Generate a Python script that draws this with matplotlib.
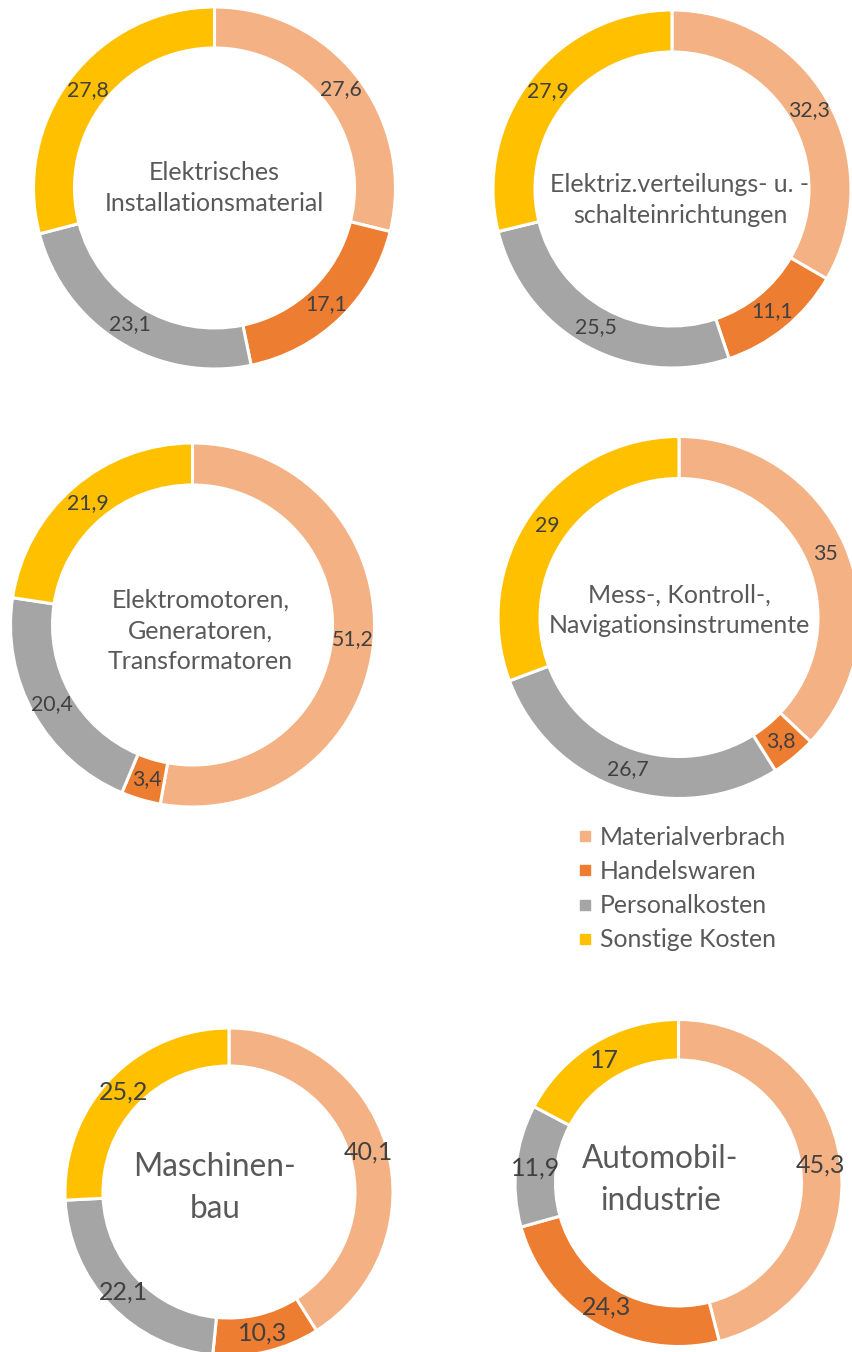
import matplotlib.pyplot as plt
from matplotlib.lines import Line2D
import numpy as np

plt.rcParams['font.family'] = ['Lato', 'DejaVu Sans']

W, H = 853, 1352

categories = ['Materialverbrach', 'Handelswaren', 'Personalkosten', 'Sonstige Kosten']
colors = ['#F4B183', '#ED7D31', '#A5A5A5', '#FFC000']

titles = [
    'Elektrisches\nInstallationsmaterial',
    'Elektriz.verteilungs- u. -\nschalteinrichtungen',
    'Elektromotoren,\nGeneratoren,\nTransformatoren',
    'Mess-, Kontroll-,\nNavigationsinstrumente',
    'Maschinen-\nbau',
    'Automobil-\nindustrie',
]

installationsmaterial = [27.6, 17.1, 23.1, 27.8]
schalteinrichtungen = [32.3, 11.1, 25.5, 27.9]
elektromotoren = [51.2, 3.4, 20.4, 21.9]
messinstrumente = [35, 3.8, 26.7, 29]
maschinenbau = [40.1, 10.3, 22.1, 25.2]
automobil = [45.3, 24.3, 11.9, 17]

series = [installationsmaterial, schalteinrichtungen, elektromotoren,
          messinstrumente, maschinenbau, automobil]

# layout in pixels: center x, center y (from top), outer r, inner r,
# title offset, font sizes
layout = [
    dict(c=(214.5, 188), R=181, r=140, off=(0, 0), tfs=18, nfs=15.3, ls=1.42),
    dict(c=(672, 189), R=179, r=137, off=(8, 11), tfs=18, nfs=15.3, ls=1.42),
    dict(c=(192.5, 625), R=182, r=140, off=(8, 6), tfs=18, nfs=15.3, ls=1.42),
    dict(c=(679, 617.5), R=181, r=139, off=(0, -7), tfs=18, nfs=15.3, ls=1.42),
    dict(c=(229, 1192), R=164, r=126, off=(-14, -4), tfs=22.7, nfs=18, ls=1.47),
    dict(c=(678.5, 1183), R=163.5, r=123, off=(-18, -3), tfs=22.7, nfs=18, ls=1.47),
]

fig = plt.figure(figsize=(W / 100, H / 100), dpi=100)
ax = fig.add_axes([0, 0, 1, 1])

for vals, title, lay in zip(series, titles, layout):
    cx, cy = lay['c']
    cy = H - cy
    R, r = lay['R'], lay['r']
    wedges, _ = ax.pie(vals, colors=colors, radius=R, center=(cx, cy),
                       startangle=90, counterclock=False,
                       wedgeprops=dict(width=R - r, edgecolor='white', linewidth=2.2))
    rm = (R + r) / 2
    for w, v in zip(wedges, vals):
        ang = np.deg2rad((w.theta1 + w.theta2) / 2)
        txt = f'{v:g}'.replace('.', ',')
        ax.text(cx + rm * np.cos(ang), cy + rm * np.sin(ang), txt,
                ha='center', va='center', fontsize=lay['nfs'], color='#404040')
    ax.text(cx + lay['off'][0], cy - lay['off'][1], title, ha='center', va='center',
            fontsize=lay['tfs'], color='#595959', linespacing=lay['ls'])

ax.set_xlim(0, W)
ax.set_ylim(0, H)
ax.set_aspect('equal')
ax.axis('off')

handles = [Line2D([], [], marker='s', linestyle='none', markersize=7.2,
                  markerfacecolor=c, markeredgecolor=c) for c in colors]
fig.legend(handles, categories, loc='upper left',
           bbox_to_anchor=(575 / W, 1 - 826 / H), frameon=False,
           fontsize=17.8, labelcolor='#595959', handletextpad=0.2,
           labelspacing=0.45, borderpad=0, borderaxespad=0, handlelength=0.8)

fig.savefig('out.png', dpi=100)
